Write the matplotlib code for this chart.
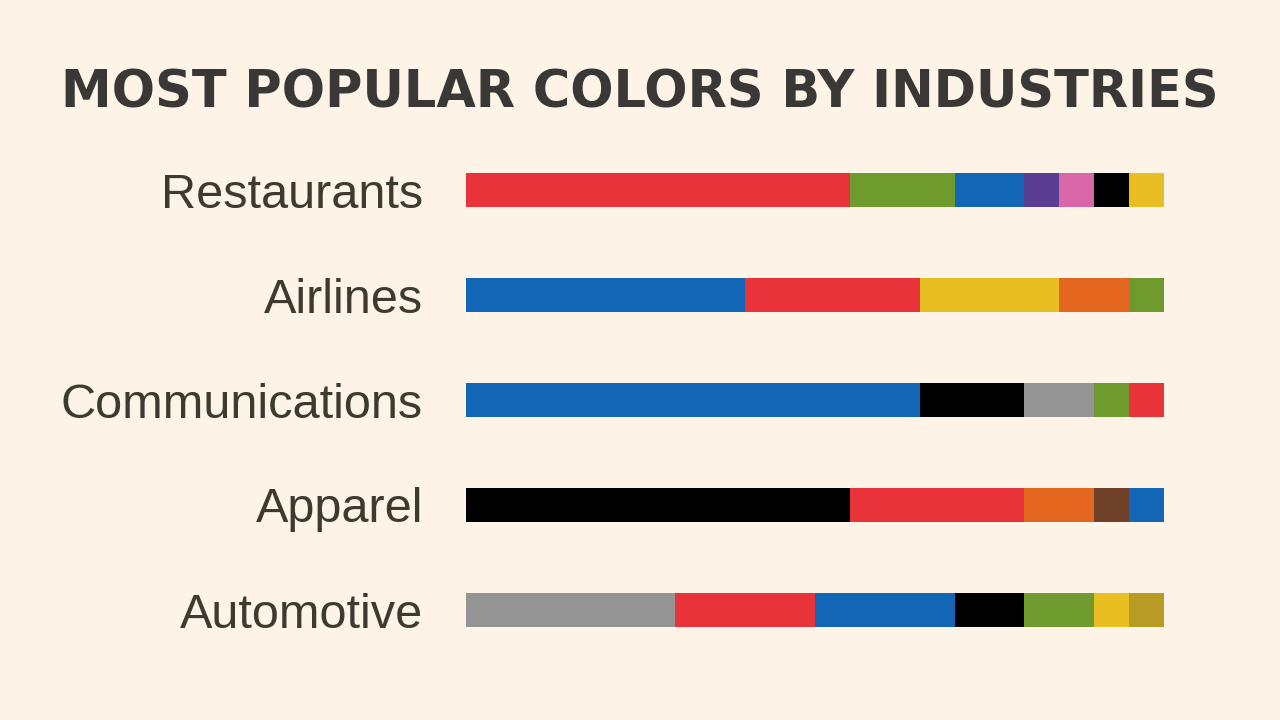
import matplotlib
matplotlib.use("Agg")
import matplotlib.pyplot as plt

# ---- data (share of top brands, %) ----
industries = ["Restaurants", "Airlines", "Communications", "Apparel", "Automotive"]

restaurants_colors = ["red", "green", "blue", "purple", "pink", "black", "yellow"]
restaurants_values = [55, 15, 10, 5, 5, 5, 5]

airlines_colors = ["blue", "red", "yellow", "orange", "green"]
airlines_values = [40, 25, 20, 10, 5]

communications_colors = ["blue", "black", "gray", "green", "red"]
communications_values = [65, 15, 10, 5, 5]

apparel_colors = ["black", "red", "orange", "brown", "blue"]
apparel_values = [55, 25, 10, 5, 5]

automotive_colors = ["gray", "red", "blue", "black", "green", "yellow", "gold"]
automotive_values = [30, 20, 20, 10, 10, 5, 5]

palette = {
    "red": "#e8333a",
    "green": "#6f9a2e",
    "blue": "#1266b5",
    "purple": "#5a3e94",
    "pink": "#d966a8",
    "black": "#000000",
    "yellow": "#e8be22",
    "orange": "#e5671f",
    "gray": "#949494",
    "brown": "#6e4128",
    "gold": "#b89b22",
}

series_values = [restaurants_values, airlines_values, communications_values,
                 apparel_values, automotive_values]
series_colors = [restaurants_colors, airlines_colors, communications_colors,
                 apparel_colors, automotive_colors]

BG = "#fdf4e7"
fig = plt.figure(figsize=(12.8, 7.2), dpi=100, facecolor=BG)
ax = fig.add_axes([466 / 1280, (720 - 662.5) / 720, 698 / 1280, 525 / 720])
ax.set_facecolor(BG)

for i, (vals, cols) in enumerate(zip(series_values, series_colors)):
    left = 0
    for v, c in zip(vals, cols):
        ax.barh(i, v, left=left, height=0.333, color=palette[c], linewidth=0)
        left += v

ax.set_xlim(0, 100)
ax.set_ylim(4.5, -0.5)
ax.set_yticks(range(len(industries)))
ax.set_yticklabels(industries, fontsize=35, color="#3d3a30",
                   family=["Liberation Sans", "DejaVu Sans"])
ax.tick_params(axis="y", length=0, pad=31)
ax.set_xticks([])
for s in ax.spines.values():
    s.set_visible(False)

fig.text(0.5, 1 - 107 / 720, "MOST POPULAR COLORS BY INDUSTRIES",
         ha="center", va="baseline", fontsize=36.7, fontweight="bold",
         color="#3a3836", family=["DejaVu Sans"])

fig.savefig("out.png", dpi=100, facecolor=BG)
